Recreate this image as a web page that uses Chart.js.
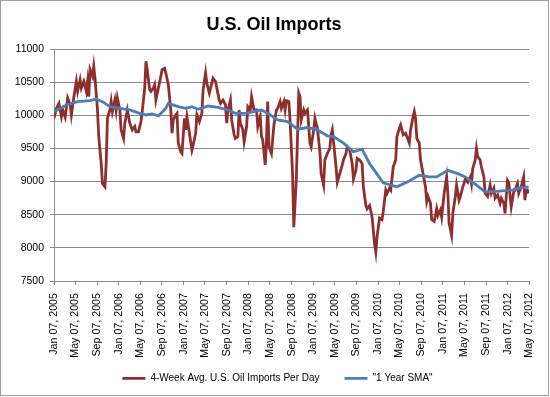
<!DOCTYPE html>
<html>
<head>
<meta charset="utf-8">
<script src="https://cdn.jsdelivr.net/npm/chart.js@4"></script>
<style>
html,body{margin:0;padding:0;background:#fff;}
canvas{display:block;}
</style>
</head>
<body>
<canvas id="c" width="550" height="397"></canvas>
<script>
// Weekly series: week number counted from the first observation (Jan 07, 2005)
const startDate = "Jan 07, 2005";
const tickLabels = [
  "Jan 07, 2005","May 07, 2005","Sep 07, 2005",
  "Jan 07, 2006","May 07, 2006","Sep 07, 2006",
  "Jan 07, 2007","May 07, 2007","Sep 07, 2007",
  "Jan 07, 2008","May 07, 2008","Sep 07, 2008",
  "Jan 07, 2009","May 07, 2009","Sep 07, 2009",
  "Jan 07, 2010","May 07, 2010","Sep 07, 2010",
  "Jan 07, 2011","May 07, 2011","Sep 07, 2011",
  "Jan 07, 2012","May 07, 2012"
];
const yTickValues = [7500, 8000, 8500, 9000, 9500, 10000, 10500, 11000];

const seriesNames = ["4-Week Avg. U.S. Oil Imports Per Day", "\"1 Year SMA\""];

const importWeeks = [
  0,2,4,6,7,9,11,13,14,16,18,19,21,22,24,26,27,28,29,31,32,33,35,36,38,39,41,42,43,45,46,47,49,50,51,53,54,56,57,59,
  61,63,65,66,68,70,71,73,74,75,77,78,80,81,82,84,86,87,89,90,92,94,95,96,98,99,100,102,103,105,106,107,109,111,112,114,115,117,119,120,
  122,123,125,126,128,130,131,133,134,136,138,139,140,142,143,145,146,148,149,150,152,153,155,156,158,159,161,163,164,166,167,168,170,171,
  172,173,175,177,179,180,182,183,185,186,187,189,190,192,193,195,197,198,199,201,202,204,206,207,209,210,212,214,215,217,218,220,222,223,224,225,
  227,228,230,232,233,235,236,238,240,241,243,244,246,248,249,251,252,254,256,258,259,260,262,264,265,267,268,270,271,273,275,276,278,279,
  281,283,284,286,287,289,290,291,292,294,295,297,299,300,301,303,304,306,308,309,311,312,314,316,317,318,320,321,323,324,326,327,329,330,331,
  333,335,336,337,339,340,341,343,344,346,347,349,351,352,354,355,357,359,360,362,363,365,366,368,370,371,373,374,376,378,379,380,381,382
];
const importValues = [
  9955,10106,10180,9980,10080,9970,10260,10160,10005,10280,10510,10360,10535,10410,10510,10360,10510,10280,10690,10590,10740,10560,10080,9680,9270,8970,8920,9270,9955,10080,10210,10055,10230,10080,10260,10080,9780,9650,9880,10080,
  9880,9780,9830,9750,9750,9905,10055,10410,10815,10690,10385,10360,10410,10460,10230,10410,10590,10690,10710,10640,10460,10080,9730,9930,10005,10030,9580,9450,9425,9955,9780,9980,9730,9475,9550,9730,10005,9905,10030,10385,
  10640,10485,10335,10410,10560,10510,10410,10230,10180,10230,10160,9880,10080,10230,9930,9705,9650,9680,10080,9880,9780,9600,9830,10130,10080,10280,10080,10080,9830,9980,9680,9630,9250,9600,
  10207,9525,9425,9855,10080,10105,10207,10105,10207,10080,10220,10207,9930,9120,8313,9020,10335,10280,9930,10080,10030,10080,9580,9525,9780,9955,9805,9450,9120,8945,9325,9425,9500,9705,9780,9600,
  9220,8990,9120,9250,9325,9425,9525,9475,9270,9040,9170,9350,9325,9270,8920,8640,8590,8640,8465,8060,7935,8165,8450,8425,8550,8870,8820,8900,8870,9220,9325,9680,9805,9855,
  9705,9730,9680,9580,9780,9980,10055,9955,9650,9580,9325,9120,8920,8700,8775,8675,8425,8400,8590,8490,8570,8465,8820,9070,8820,8374,8190,8520,8775,8945,8720,8775,8920,8970,9040,
  8990,9070,8970,9195,9325,9500,9375,9325,9220,9070,8820,8775,8945,8820,8900,8750,8800,8675,8750,8675,8520,9020,8990,8620,8845,8870,8970,8820,8920,9070,8720,8870,8870,8820
];

const smaWeeks = [0,10,19,29,34,39,45,53,61,69,74,79,84,90,92,100,106,111,116,124,132,140,146,154,161,167,172,
  180,188,196,204,212,220,225,233,241,248,254,265,276,284,294,302,308,317,325,331,340,347,358,369,374,382];
const smaValues = [10055,10155,10205,10220,10245,10205,10130,10105,10080,10030,10005,10020,9990,10105,10180,10130,10105,10130,10090,10140,10120,10080,10030,10030,10055,10080,10030,
  9930,9905,9790,9815,9780,9690,9680,9580,9450,9490,9270,8980,8920,8990,9095,9070,9070,9170,9120,9070,8945,8845,8855,8870,8900,8920];

const MONTHS = {Jan:0,Feb:1,Mar:2,Apr:3,May:4,Jun:5,Jul:6,Aug:7,Sep:8,Oct:9,Nov:10,Dec:11};
function parseLabel(s){
  const m = s.match(/^(\w{3}) (\d{2}), (\d{4})$/);
  return Date.UTC(+m[3], MONTHS[m[1]], +m[2]);
}
const t0 = parseLabel(startDate);
const toWeek = s => (parseLabel(s) - t0) / (7 * 86400000);
const tickWeeks = tickLabels.map(toWeek);

const redPts = importWeeks.map((w, i) => ({x: w, y: importValues[i]}));
const bluePts = smaWeeks.map((w, i) => ({x: w, y: smaValues[i]}));

const FONT = "'Liberation Sans', Arial, sans-serif";
const GRID = '#8c8c8c';

const framePlugin = {
  id: 'frame',
  afterLayout(chart) {
    const t = chart.titleBlock;
    if (t) { t.left += 2; t.right += 2; }
    const l = chart.legend;
    if (l) {
      l.left += 5.5; l.right += 5.5;
      l.top = 348.3; l.bottom = 396;
      l.height = l.bottom - l.top;
    }
  },
  afterDraw(chart) {
    const ctx = chart.ctx;
    ctx.save();
    ctx.strokeStyle = '#a0a0a0';
    ctx.lineWidth = 1;
    ctx.strokeRect(0.5, 0.5, 548, 395);
    ctx.restore();
  }
};

new Chart(document.getElementById('c'), {
  type: 'line',
  data: {
    datasets: [
      {
        label: seriesNames[0],
        data: redPts,
        borderColor: '#8E2F2D',
        backgroundColor: '#8E2F2D',
        borderWidth: 2.8,
        pointRadius: 0,
        tension: 0,
        order: 1
      },
      {
        label: seriesNames[1],
        data: bluePts,
        borderColor: '#4A7EBB',
        backgroundColor: '#4A7EBB',
        borderWidth: 2.8,
        pointRadius: 0,
        tension: 0,
        order: 0
      }
    ]
  },
  options: {
    responsive: false,
    animation: false,
    devicePixelRatio: 1,
    layout: { autoPadding: false, padding: {left: 8, right: 14, top: 0, bottom: 12} },
    plugins: {
      title: {
        display: true,
        text: 'U.S. Oil Imports',
        color: '#000',
        font: {family: FONT, size: 18, weight: 'bold', lineHeight: 1.2},
        padding: {top: 14.2, bottom: 13.2}
      },
      legend: {
        position: 'bottom',
        maxHeight: 20,
        labels: {
          color: '#000',
          font: {family: FONT, size: 10},
          boxWidth: 23,
          boxHeight: 0,
          padding: 25,
          sort: (a, b) => a.datasetIndex - b.datasetIndex
        }
      },
      tooltip: {enabled: false}
    },
    scales: {
      x: {
        type: 'linear',
        min: 0,
        max: tickWeeks[tickWeeks.length - 1],
        afterBuildTicks: s => { s.ticks = tickWeeks.map(v => ({value: v})); },
        afterFit: s => { s.height = 84; },
        grid: {display: true, drawOnChartArea: false, drawTicks: true, tickLength: 4, color: GRID},
        border: {display: true, color: GRID, width: 1},
        ticks: {
          autoSkip: false,
          maxRotation: 90,
          minRotation: 90,
          padding: 8,
          color: '#000',
          font: {family: FONT, size: 10.7},
          callback: (v, i) => tickLabels[i]
        }
      },
      y: {
        type: 'linear',
        min: yTickValues[0],
        max: yTickValues[yTickValues.length - 1],
        afterBuildTicks: s => { s.ticks = yTickValues.map(v => ({value: v})); },
        afterFit: s => { s.width = 46; },
        grid: {color: GRID, lineWidth: 1, tickLength: 4, drawTicks: true},
        border: {display: true, color: GRID, width: 1},
        ticks: {
          padding: 6,
          color: '#000',
          font: {family: FONT, size: 10.5},
          callback: v => String(v)
        }
      }
    }
  },
  plugins: [framePlugin]
});
</script>
</body>
</html>
